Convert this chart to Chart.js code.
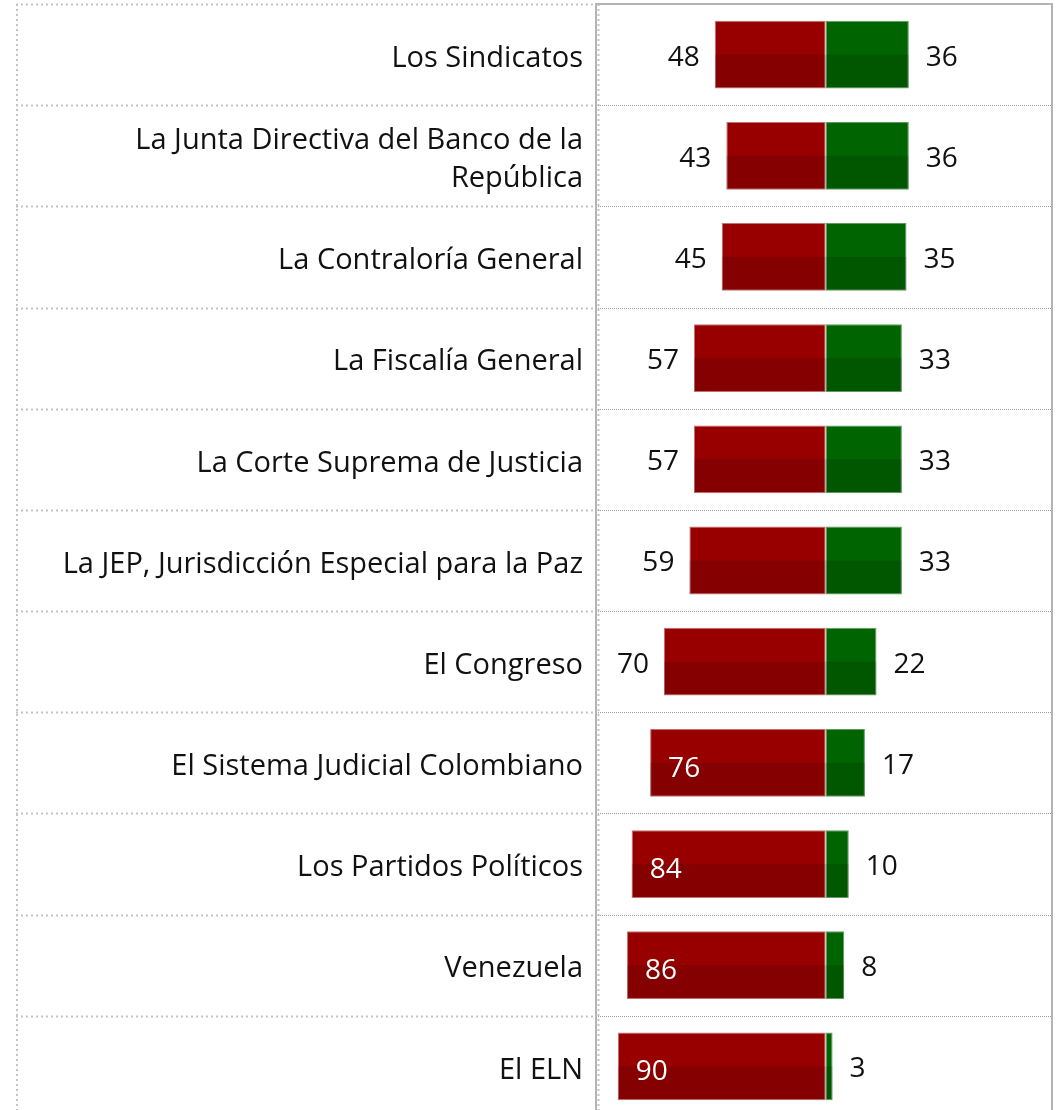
<!DOCTYPE html>
<html>
<head>
<meta charset="utf-8">
<script src="https://cdn.jsdelivr.net/npm/chart.js@4.4.1/dist/chart.umd.min.js"></script>
<style>
    html, body { margin: 0; padding: 0; background: #fff; overflow: hidden; }
    #wrap { width: 1056px; height: 1117px; }
</style>
</head>
<body>
<div id="wrap"><canvas id="trustChart" width="1056" height="1117"></canvas></div>
<script>
// Values
const categories = [
    'Los Sindicatos',
    ['La Junta Directiva del Banco de la', 'República'],
    'La Contraloría General',
    'La Fiscalía General',
    'La Corte Suprema de Justicia',
    'La JEP, Jurisdicción Especial para la Paz',
    'El Congreso',
    'El Sistema Judicial Colombiano',
    'Los Partidos Políticos',
    'Venezuela',
    'El ELN'
];
const unfavorable = [48, 43, 45, 57, 57, 59, 70, 76, 84, 86, 90];
const favorable = [36, 36, 35, 33, 33, 33, 22, 17, 10, 8, 3];

const RED = '#980000';
const GREEN = '#006400';
const FONT = '"Open Sans", Lato, sans-serif';

// grid drawn as a table behind the bars
const tableGrid = {
    id: 'tableGrid',
    beforeDatasetsDraw(chart) {
        const { ctx, chartArea, scales } = chart;
        const y = scales.y;
        const rowH = y.getPixelForValue(1) - y.getPixelForValue(0);
        const split = chartArea.left - 1;
        ctx.save();

        const bounds = [];
        for (let i = 0; i < categories.length; i++) {
            bounds.push(Math.round(y.getPixelForValue(i) - rowH / 2) + 0.5);
        }
        bounds.push(Math.round(y.getPixelForValue(categories.length - 1) + rowH / 2) + 0.5);

        // left side: coarse dotted lines
        ctx.strokeStyle = '#c4c4c4';
        ctx.lineWidth = 2;
        ctx.setLineDash([2, 3]);
        bounds.forEach(b => {
            ctx.beginPath();
            ctx.moveTo(16, b);
            ctx.lineTo(split - 1, b);
            ctx.stroke();
        });
        ctx.beginPath();
        ctx.moveTo(17, chartArea.top);
        ctx.lineTo(17, chartArea.bottom);
        ctx.stroke();
        ctx.beginPath();
        ctx.moveTo(split + 2.5, chartArea.top);
        ctx.lineTo(split + 2.5, chartArea.bottom);
        ctx.stroke();

        // right side: fine dotted lines
        ctx.strokeStyle = '#9a9a9a';
        ctx.lineWidth = 1;
        ctx.setLineDash([1, 1]);
        bounds.slice(1).forEach(b => {
            ctx.beginPath();
            ctx.moveTo(split + 2, b);
            ctx.lineTo(chartArea.right, b);
            ctx.stroke();
        });

        // solid frame of the bar column
        ctx.setLineDash([]);
        ctx.strokeStyle = '#b4b4b4';
        ctx.lineWidth = 2;
        ctx.beginPath();
        ctx.moveTo(split, chartArea.top - 1);
        ctx.lineTo(split, chartArea.bottom);
        ctx.moveTo(split, chartArea.top);
        ctx.lineTo(chartArea.right, chartArea.top);
        ctx.moveTo(chartArea.right, chartArea.top - 1);
        ctx.lineTo(chartArea.right, chartArea.bottom);
        ctx.stroke();
        ctx.restore();
    }
};

// darker lower half of each bar, then the value labels
const barFinish = {
    id: 'barFinish',
    afterDatasetsDraw(chart) {
        const { ctx } = chart;
        ctx.save();
        chart.data.datasets.forEach((ds, di) => {
            chart.getDatasetMeta(di).data.forEach(bar => {
                const left = Math.min(bar.x, bar.base);
                const w = Math.abs(bar.x - bar.base);
                ctx.fillStyle = 'rgba(0,0,0,0.12)';
                ctx.fillRect(left, bar.y, w, bar.height / 2 - 1);
            });
        });

        ctx.font = '28px ' + FONT;
        ctx.textBaseline = 'middle';
        chart.getDatasetMeta(0).data.forEach((bar, i) => {
            const v = unfavorable[i];
            if (v > 72) {
                ctx.fillStyle = '#ffffff';
                ctx.textAlign = 'left';
                ctx.fillText(v, bar.x + 18, bar.y + 6);
            } else {
                ctx.fillStyle = '#111111';
                ctx.textAlign = 'right';
                ctx.fillText(v, bar.x - 15, bar.y + 3);
            }
        });
        chart.getDatasetMeta(1).data.forEach((bar, i) => {
            ctx.fillStyle = '#111111';
            ctx.textAlign = 'left';
            ctx.fillText(favorable[i], bar.x + 17, bar.y + 3);
        });
        ctx.restore();
    }
};

new Chart(document.getElementById('trustChart'), {
    type: 'bar',
    data: {
        labels: categories,
        datasets: [
            {
                label: 'Desfavorable',
                data: unfavorable.map(v => -v),
                backgroundColor: RED,
                borderColor: '#c27070',
                borderWidth: 1,
                borderSkipped: false,
                categoryPercentage: 1,
                barPercentage: 0.67
            },
            {
                label: 'Favorable',
                data: favorable,
                backgroundColor: GREEN,
                borderColor: '#5f9a5f',
                borderWidth: 1,
                borderSkipped: false,
                categoryPercentage: 1,
                barPercentage: 0.67
            }
        ]
    },
    options: {
        indexAxis: 'y',
        responsive: false,
        animation: false,
        layout: { padding: { top: 4, right: 4, left: 0, bottom: 0 } },
        plugins: {
            legend: { display: false },
            tooltip: { enabled: false }
        },
        scales: {
            x: {
                display: false,
                stacked: true,
                min: -99,
                max: 98
            },
            y: {
                stacked: true,
                grid: { display: false, drawTicks: false },
                border: { display: false },
                afterFit(scale) {
                    scale.width = 597;
                    scale.paddingTop = 0;
                    scale.paddingBottom = 0;
                },
                ticks: {
                    padding: 14,
                    labelOffset: 4,
                    color: '#111111',
                    font: { family: FONT, size: 29, lineHeight: 1.28 }
                }
            }
        }
    },
    plugins: [tableGrid, barFinish]
});
</script>
</body>
</html>
